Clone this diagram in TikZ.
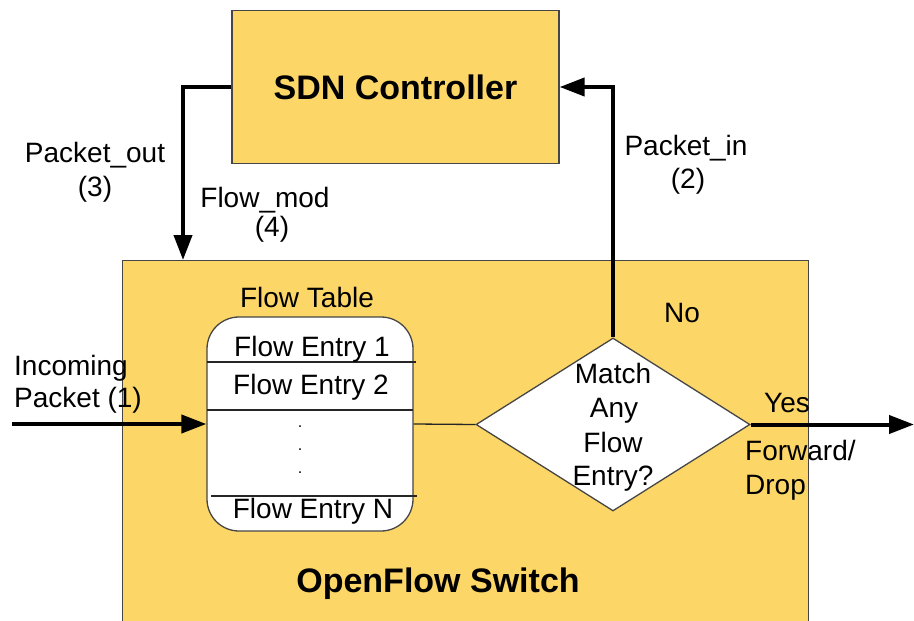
\documentclass[tikz,border=0pt]{standalone}
\usepackage{fontspec}
\setmainfont{Liberation Sans}
\usetikzlibrary{arrows.meta,shapes.geometric,calc}
\definecolor{boxyellow}{RGB}{252,214,102}
\definecolor{edgegray}{RGB}{70,70,70}
\tikzset{
  panel/.style={draw=edgegray, line width=1.3pt, fill=boxyellow, inner sep=0pt},
  lbl/.style={inner sep=0pt, font=\fontsize{28}{34}\selectfont},
  dotlbl/.style={inner sep=0pt, font=\fontsize{16}{16}\selectfont},
  title/.style={inner sep=0pt, font=\fontsize{34}{40}\selectfont\bfseries},
  flowarrow/.style={line width=4pt, -{Triangle[length=25pt,width=18pt]}},
  thinline/.style={line width=1.3pt, draw=black!85},
}
\begin{document}
\begin{tikzpicture}[x=1pt,y=-1pt]
  \useasboundingbox (0,0) rectangle (914,621);

  % switch and controller
  \node[panel, minimum width=686pt, minimum height=380pt, anchor=north west] (sw) at (122,260) {};
  \node[panel, minimum width=327pt, minimum height=153pt] (ctrl) at (395.5,87)
       {\fontsize{34}{40}\selectfont\bfseries SDN Controller};
  \node[title, anchor=base] (swname) at (438,592) {OpenFlow Switch};

  % flow table
  \node[lbl, anchor=base] (fttitle) at (307,307) {Flow Table};
  \node[draw=edgegray, line width=1.3pt, fill=white, rounded corners=32pt,
        minimum width=206pt, minimum height=214pt, inner sep=0pt] (ft) at (310,424) {};
  \draw[thinline] (207,362) -- (416,362);
  \draw[thinline] (207,410) -- (413,410);
  \draw[thinline] (211,496) -- (417,496);
  \node[lbl, anchor=base] (fe1) at (312,356) {Flow Entry 1};
  \node[lbl, anchor=base] (fe2) at (311,394) {Flow Entry 2};
  \node[dotlbl, anchor=base] (dot1) at (300,427) {.};
  \node[dotlbl, anchor=base] (dot2) at (300,450) {.};
  \node[dotlbl, anchor=base] (dot3) at (300,473) {.};
  \node[lbl, anchor=base] (fen) at (313,518) {Flow Entry N};

  % decision
  \node[diamond, draw=edgegray, line width=1.3pt, fill=white, inner sep=0pt,
        minimum width=274pt, minimum height=173pt] (dm) at (613,424.5) {};
  \node[lbl, anchor=base] (q1) at (613,383) {Match};
  \node[lbl, anchor=base] (q2) at (614,417) {Any};
  \node[lbl, anchor=base] (q3) at (613,452) {Flow};
  \node[lbl, anchor=base] (q4) at (613,485) {Entry?};

  % connectors
  \coordinate (inc) at (12,424);
  \coordinate (out) at (914,424.5);
  \coordinate (bend) at (183,87);
  \draw[flowarrow] (inc) -- (ft.west);
  \draw[thinline] (ft.east) -- (dm.west);
  \draw[flowarrow] (dm.east) -- (out);
  \draw[flowarrow] (dm.north) -- (dm.north |- ctrl.east) -- (ctrl.east);
  \draw[flowarrow] (ctrl.west) -- (bend) -- (bend |- sw.north);

  % labels
  \node[lbl, anchor=base west] (in1) at (14,375) {Incoming};
  \node[lbl, anchor=base west] (in2) at (14,407) {Packet (1)};
  \node[lbl, anchor=base] (po1) at (95,162) {Packet\_out};
  \node[lbl, anchor=base] (po2) at (95,196) {(3)};
  \node[lbl, anchor=base] (fm1) at (265,207) {Flow\_mod};
  \node[lbl, anchor=base] (fm2) at (272,236) {(4)};
  \node[lbl, anchor=base] (pi1) at (686,155) {Packet\_in};
  \node[lbl, anchor=base] (pi2) at (688,188) {(2)};
  \node[lbl, anchor=base] (no) at (682,322) {No};
  \node[lbl, anchor=base] (yes) at (787,412) {Yes};
  \node[lbl, anchor=base west] (fw1) at (745,460) {Forward/};
  \node[lbl, anchor=base west] (fw2) at (745,494) {Drop};
\end{tikzpicture}
\end{document}
